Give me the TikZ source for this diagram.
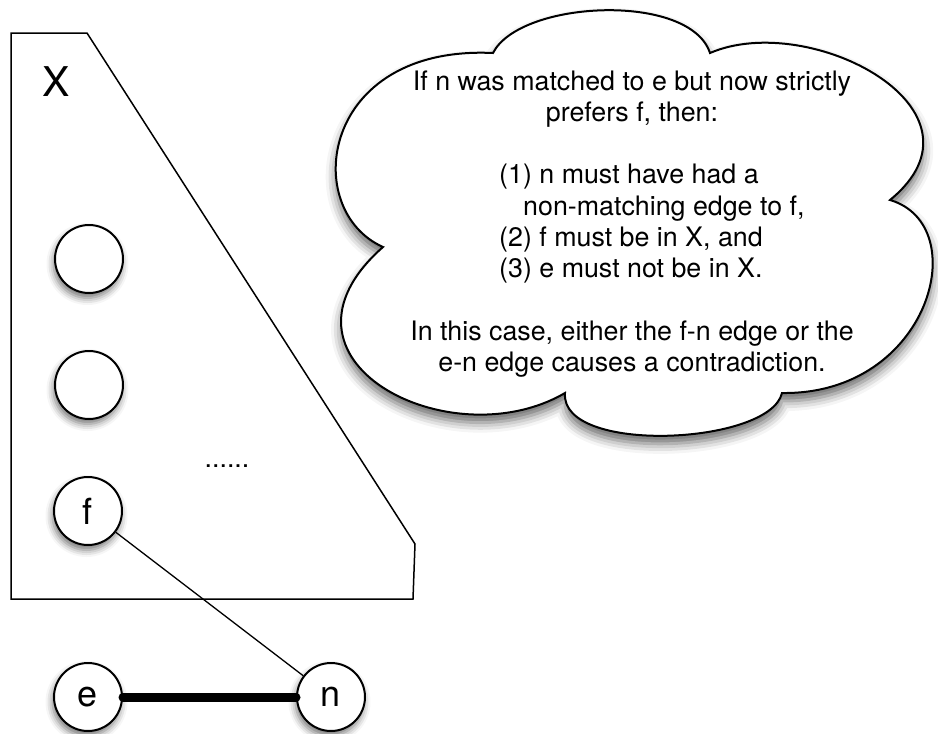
\documentclass[tikz,border=0pt]{standalone}
\usepackage{fontspec}
\setmainfont{TeX Gyre Heros}
\usetikzlibrary{shadows.blur}
\tikzstyle{vertex} = [circle, draw=black, line width=2pt, fill=white, minimum size=68pt, inner sep=0pt, font=\fontsize{36}{36}\selectfont, blur shadow={shadow xshift=-1.5pt, shadow yshift=-5pt, shadow blur radius=7pt, shadow opacity=55}]
\tikzstyle{edge} = [line width=1.3pt]
\tikzstyle{matching} = [line width=9pt, line cap=round]
\tikzstyle{note} = [anchor=base, inner sep=0pt, font=\fontsize{26.8}{31.3}\selectfont]
\tikzstyle{bubble} = [draw=black, line width=2pt, fill=white, blur shadow={shadow xshift=0pt, shadow yshift=-8pt, shadow blur radius=10pt, shadow opacity=60}]

\begin{document}
\begin{tikzpicture}[x=1pt, y=-1pt]
    \useasboundingbox (0,0) rectangle (938,734);

    % the set X
    \draw [line width=1.5pt] (11,33) -- (87,33) -- (415,544) -- (413,599) -- (11,599) -- cycle;
    \node (xlabel) [anchor=base, inner sep=0pt, font=\fontsize{41}{41}\selectfont] at (56.5,96.5) {X};
    \node (dots) [note] at (227,467) {......};

    \node (v1) [vertex] at (89,259) {};
    \node (v2) [vertex] at (89,385) {};
    \node (f) [vertex] at (88,511) {f};
    \node (e) [vertex] at (88,697) {e};
    \node (n) [vertex] at (331,697) {n};

    \draw [edge] (f) -- (n);
    \draw [matching] (e) -- (n);

    % thought bubble
    \draw [bubble] (493,53) .. controls (520,0) and (690,-8) .. (710,53)
        .. controls (810,10) and (1000,110) .. (890,200)
        .. controls (975,225) and (930,395) .. (782,393)
        .. controls (770,445) and (560,455) .. (565,393)
        .. controls (450,460) and (255,360) .. (383,247)
        .. controls (300,210) and (320,45) .. cycle;

    \node (head1) [note] at (632,90) {If n was matched to e but now strictly};
    \node (head2) [note] at (632,121.3) {prefers f, then:};
    \node (item1) [note, anchor=base west] at (499,183.9) {(1) n must have had a};
    \node (item1b) [note, anchor=base west] at (523,215.2) {non-matching edge to f,};
    \node (item2) [note, anchor=base west] at (499,246.5) {(2) f must be in X, and};
    \node (item3) [note, anchor=base west] at (499,277.8) {(3) e must not be in X.};
    \node (tail1) [note] at (632,340.4) {In this case, either the f-n edge or the};
    \node (tail2) [note] at (632,371.7) {e-n edge causes a contradiction.};
\end{tikzpicture}
\end{document}
